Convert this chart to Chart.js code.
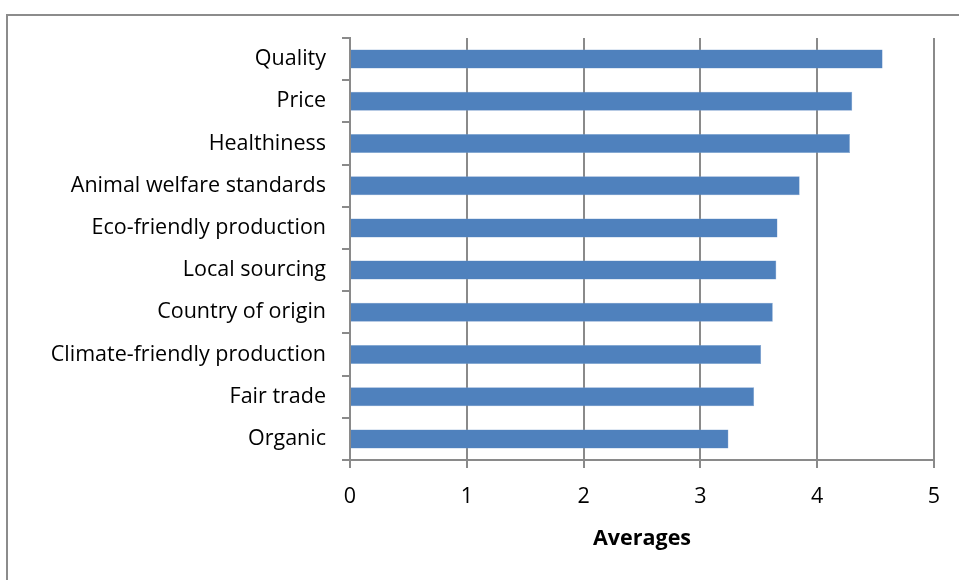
<!DOCTYPE html>
<html>
<head>
<meta charset="utf-8">
<script src="https://cdn.jsdelivr.net/npm/chart.js@4"></script>
<style>
  html, body { margin: 0; padding: 0; background: #fff; }
  #wrap { position: relative; width: 959px; height: 580px; overflow: hidden; }
  #frame { position: absolute; left: 6px; top: 14px; width: 1000px; height: 700px;
           border-left: 2px solid #8c8c8c; border-top: 2px solid #8c8c8c; }
  canvas { position: absolute; left: 0; top: 0; }
</style>
</head>
<body>
<div id="wrap">
  <div id="frame"></div>
  <canvas id="factorsChart" width="959" height="580"></canvas>
</div>
<script>
// top-down order as in the picture
var factors = ['Quality', 'Price', 'Healthiness', 'Animal welfare standards',
    'Eco-friendly production', 'Local sourcing', 'Country of origin',
    'Climate-friendly production', 'Fair trade', 'Organic'];
var averages = [4.56, 4.30, 4.28, 3.85, 3.66, 3.65, 3.62, 3.52, 3.46, 3.24];
var xTicks = [0, 1, 2, 3, 4, 5];

var axisGray = '#8a8a8a';
var labelFont = { family: 'Open Sans', size: 21.5 };

var ctx = document.getElementById('factorsChart').getContext('2d');
var factorsChart = new Chart(ctx, {
    type: 'bar',
    data: {
        labels: factors,
        datasets: [{
            label: 'Averages',
            data: averages,
            backgroundColor: '#4f81bd',
            borderColor: '#7fa3d0',
            borderWidth: 0.5,
            barPercentage: 0.45,
            categoryPercentage: 1
        }]
    },
    options: {
        indexAxis: 'y',
        responsive: false,
        animation: false,
        layout: { padding: { top: 38, right: 25, bottom: 0, left: 0 } },
        plugins: {
            legend: { display: false },
            tooltip: { enabled: false }
        },
        scales: {
            x: {
                min: xTicks[0],
                max: xTicks[xTicks.length - 1],
                afterBuildTicks: function (scale) {
                    scale.ticks = xTicks.map(function (v) { return { value: v }; });
                },
                afterFit: function (scale) { scale.height = 120; },
                grid: { color: axisGray, lineWidth: 2, tickLength: 8 },
                border: { color: axisGray, width: 2 },
                ticks: { color: '#000', font: labelFont, padding: 16 },
                title: {
                    display: true,
                    text: 'Averages',
                    color: '#000',
                    font: { family: 'Open Sans', size: 21.5, weight: 'bold' },
                    padding: { top: 0, bottom: 28 }
                }
            },
            y: {
                afterFit: function (scale) { scale.width = 350; },
                grid: { color: axisGray, lineWidth: 2, tickLength: 8, drawOnChartArea: false, offset: true },
                border: { color: axisGray, width: 2 },
                ticks: { color: '#000', font: labelFont, padding: 16 }
            }
        }
    }
});
</script>
</body>
</html>
